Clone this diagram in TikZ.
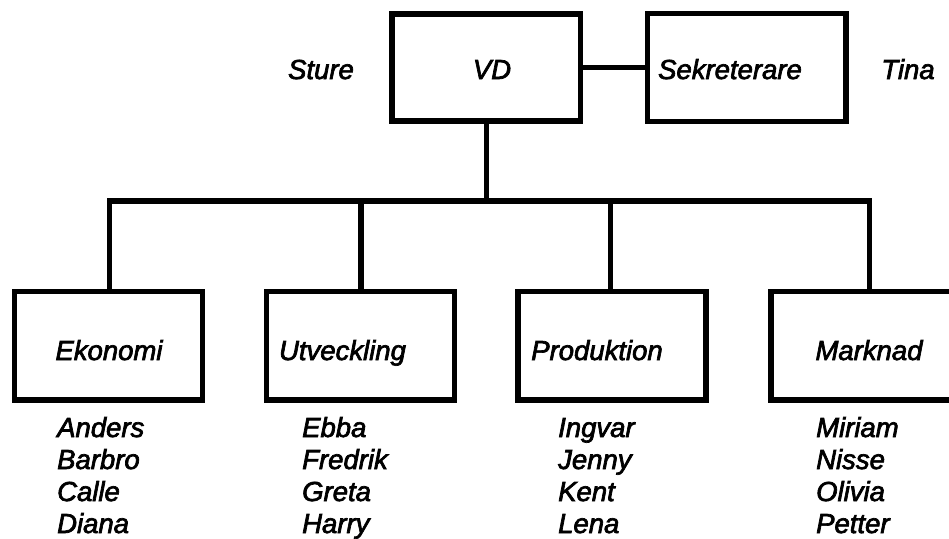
\documentclass[tikz,border=0pt]{standalone}
\usepackage{fontspec}
\newfontfamily\hv[FakeBold=2.5]{Liberation Sans}
\begin{document}
\begin{tikzpicture}[x=1pt,y=-1pt,
  orgbox/.style={draw=black,line width=5.5pt,rectangle,inner sep=0pt,minimum width=188pt,minimum height=108pt},
  lbl/.style={inner sep=0pt,anchor=base,font=\hv\itshape\fontsize{27.5}{31}\selectfont},
  nm/.style={inner sep=0pt,anchor=base west,font=\hv\itshape\fontsize{27.5}{31}\selectfont},
  conn/.style={line width=5.5pt,line join=miter,line cap=butt}]
\useasboundingbox (0,0) rectangle (949,538);
\fill[white] (0,0) rectangle (949,538);
% top boxes
\node[orgbox,minimum width=188.5pt,minimum height=107pt] (vd) at (486.25,67.5) {};
\node[orgbox,minimum width=198.5pt,minimum height=108pt] (sk) at (746.75,67.5) {};
% department boxes
\node[orgbox,minimum height=108.5pt] (ek) at (108.5,345.75) {};
\node[orgbox,minimum height=108.5pt] (ut) at (360.5,345.75) {};
\node[orgbox,minimum height=108.5pt] (pr) at (612,345.75) {};
\node[orgbox,minimum height=108.5pt] (mk) at (865,345.75) {};
% texts
\node[lbl] (tvd) at (492,79) {VD};
\node[lbl] (tsk) at (730,79) {Sekreterare};
\node[lbl] (tst) at (321,79) {Sture};
\node[lbl] (tti) at (908,79) {Tina};
\node[lbl] (tek) at (109,360) {Ekonomi};
\node[lbl] (tut) at (342.5,360) {Utveckling};
\node[lbl] (tpr) at (597,360) {Produktion};
\node[lbl] (tmk) at (869,360) {Marknad};
% connectors
\coordinate (bus) at (486.25,201);
\draw[conn] (vd.east) -- (sk.west);
\draw[conn] (vd.south) -- (bus);
\draw[conn] ([xshift=1pt]ek.north) |- (bus) -| ([xshift=4.5pt]mk.north);
\draw[conn] ([xshift=0.5pt]ut.north) -- ([xshift=0.5pt]ut.north |- bus);
\draw[conn] ([xshift=-1.5pt]pr.north) -- ([xshift=-1.5pt]pr.north |- bus);
% names
\foreach \n/\x/\y in {Anders/57/437, Barbro/57/469, Calle/57/501, Diana/57/533,
  Ebba/302/437, Fredrik/302/469, Greta/302/501, Harry/302/533,
  Ingvar/558/437, Jenny/558/469, Kent/558/501, Lena/558/533,
  Miriam/816/437, Nisse/816/469, Olivia/816/501, Petter/816/533}
  \node[nm] (n\n) at (\x,\y) {\n};
\end{tikzpicture}
\end{document}
